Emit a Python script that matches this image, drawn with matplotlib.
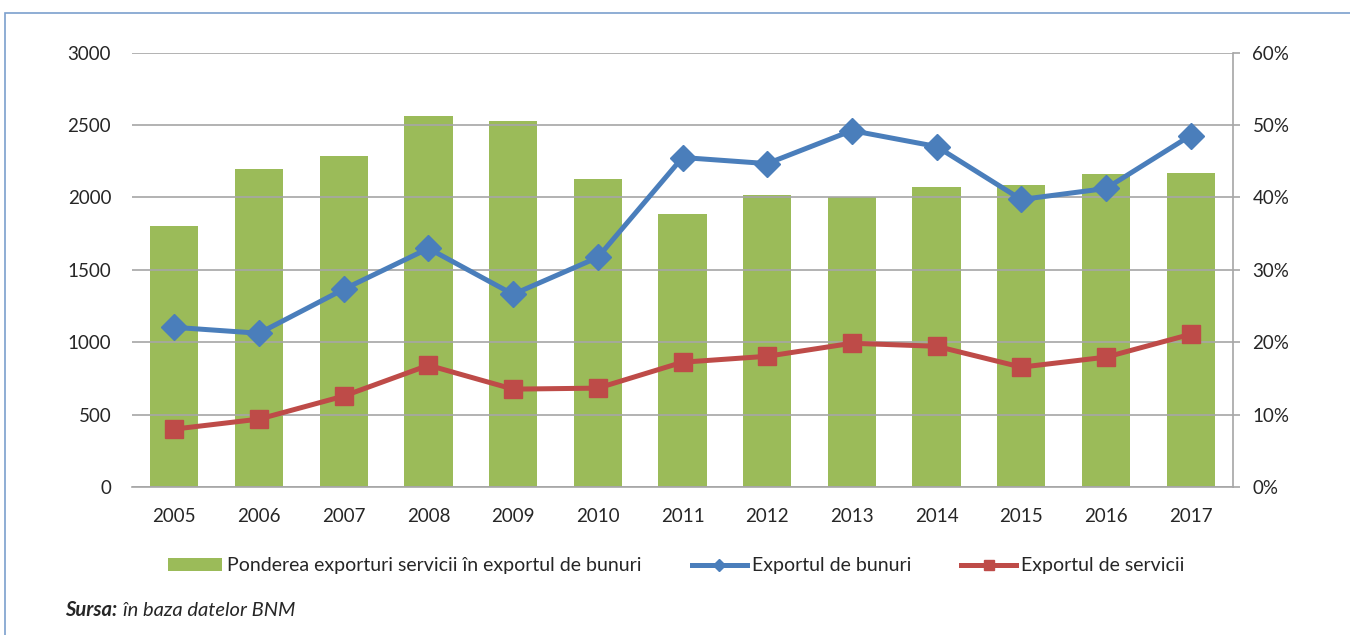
import numpy as np
import matplotlib.pyplot as plt
from matplotlib.lines import Line2D
from matplotlib.patches import Patch, Rectangle
from matplotlib.ticker import FuncFormatter

# data
years = ['2005', '2006', '2007', '2008', '2009', '2010', '2011',
         '2012', '2013', '2014', '2015', '2016', '2017']
pondere = [36.0, 43.9, 45.7, 51.2, 50.6, 42.6, 37.7, 40.3, 40.1, 41.4, 41.7, 43.3, 43.4]
export_bunuri = [1103, 1062, 1366, 1648, 1331, 1586, 2276, 2234, 2462, 2352, 1986, 2062, 2428]
export_servicii = [400, 469, 628, 841, 676, 683, 862, 903, 993, 972, 828, 897, 1055]

green = '#9BBB59'
blue = '#4A7EBB'
red = '#BE4B48'
grid_color = '#A6A6A6'
text_color = '#262626'

plt.rcParams['font.family'] = ['Lato', 'DejaVu Sans']
tick_fs = 13.5
legend_fs = 14

fig = plt.figure(figsize=(13.5, 6.35), dpi=100)
ax = fig.add_axes([132 / 1350, 1 - 487 / 635, (1233 - 132) / 1350, (487 - 52.7) / 635])
ax2 = ax.twinx()

x = np.arange(len(years))

# bars on the percentage axis
ax2.bar(x, pondere, width=0.57, color=green, zorder=2)
ax2.set_ylim(0, 60)
ax2.set_yticks(np.arange(0, 61, 10))
ax2.yaxis.set_major_formatter(FuncFormatter(lambda v, p: f'{int(v)}%'))

ax.set_ylim(0, 3000)
ax.set_yticks(np.arange(0, 3001, 500))
ax.set_xlim(-0.5, len(years) - 0.5)
ax.set_xticks(x)
ax.set_xticklabels(years)
ax.grid(axis='y', color=grid_color, linewidth=1.2, zorder=0)

# lines drawn above bars
ax.set_zorder(ax2.get_zorder() + 1)
ax.patch.set_visible(False)
ax.plot(x, export_bunuri, color=blue, linewidth=3.6, marker='D', markersize=13,
        zorder=5, clip_on=False)
ax.plot(x, export_servicii, color=red, linewidth=3.6, marker='s', markersize=13,
        zorder=5, clip_on=False)

for a in (ax, ax2):
    for s in a.spines.values():
        s.set_visible(False)
ax2.spines['right'].set_visible(True)
ax2.spines['right'].set_color(grid_color)
ax2.spines['right'].set_linewidth(1.2)
ax.spines['bottom'].set_visible(True)
ax.spines['bottom'].set_color(grid_color)
ax.spines['bottom'].set_linewidth(1.2)

ax.tick_params(axis='y', length=0, pad=15, labelsize=tick_fs, labelcolor=text_color)
ax.tick_params(axis='x', length=0, pad=15, labelsize=tick_fs, labelcolor=text_color)
ax2.tick_params(axis='y', length=5, width=1.2, color=grid_color, pad=9,
                labelsize=tick_fs, labelcolor=text_color)

handles = [Patch(facecolor=green, edgecolor='none'),
           Line2D([], [], color=blue, linewidth=3.6, marker='D', markersize=6),
           Line2D([], [], color=red, linewidth=3.6, marker='s', markersize=7)]
labels = ['Ponderea exporturi servicii în exportul de bunuri',
          'Exportul de bunuri', 'Exportul de servicii']
leg = fig.legend(handles, labels, loc='center', bbox_to_anchor=(676 / 1350, 1 - 566 / 635),
                 ncol=3, frameon=False, fontsize=legend_fs, handlelength=2.8,
                 handleheight=0.6, handletextpad=0.25, columnspacing=2.6)
for t in leg.get_texts():
    t.set_color(text_color)

# source note
fig.text(65 / 1350, 1 - 610 / 635, 'Sursa:', fontsize=14.5, fontweight='bold',
         fontstyle='italic', color=text_color, va='center')
fig.text(123 / 1350, 1 - 610 / 635, 'în baza datelor BNM', fontsize=14.5,
         fontstyle='italic', color=text_color, va='center')

# outer frame
fig.patches.append(Rectangle((5 / 1350, -0.2), 1.2, 1.2 - 13 / 635,
                             transform=fig.transFigure, fill=False,
                             edgecolor='#7BA0CD', linewidth=1.2))

fig.savefig('out.png', dpi=100)
